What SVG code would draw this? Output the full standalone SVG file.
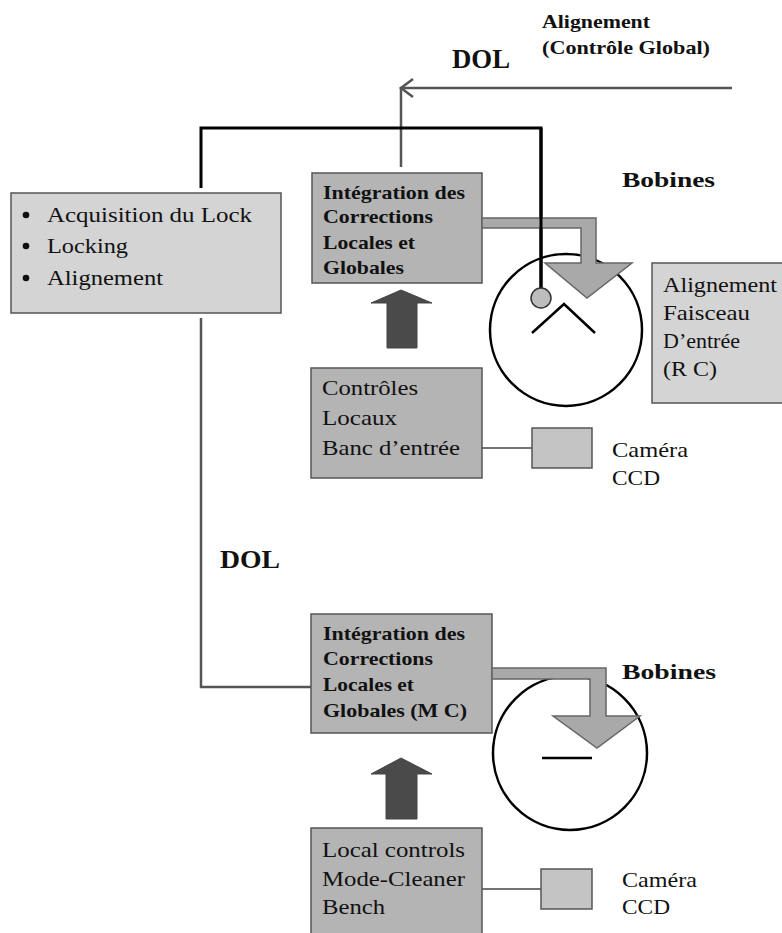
<svg xmlns="http://www.w3.org/2000/svg" width="782" height="933" viewBox="0 0 782 933">
<style>
.serif{font-family:"Liberation Serif","Times New Roman",serif;fill:#111}
.t{font-size:21px}
.b{font-size:19px;font-weight:bold}
.lb{font-size:22px;font-weight:bold}
.boxL{fill:#d4d4d4;stroke:#555;stroke-width:1.5}
.boxM{fill:#b4b4b4;stroke:#555;stroke-width:1.5}
.cam{fill:#c4c4c4;stroke:#555;stroke-width:1.5}
.garrow{fill:#a9a9a9;stroke:#666;stroke-width:1.5}
.darrow{fill:#4a4a4a;stroke:#444;stroke-width:1}
.thin{stroke:#444;stroke-width:1.3;fill:none}
.gline{stroke:#555;stroke-width:2.5;fill:none}
.bline{stroke:#000;stroke-width:3;fill:none}
.circ{fill:none;stroke:#000;stroke-width:2.5}
</style>
<rect width="782" height="933" fill="#fff"/>
<g id="connectors">
<path class="gline" d="M732 88 H401 V167"/>
<path class="gline" d="M413 79 L401 88 L413 97"/>
<path class="bline" d="M201 188 V128 H541 V288"/>
<path class="gline" d="M201 318 V687 H311"/>
<path class="thin" d="M482 448 H532"/>
<path class="thin" d="M482 889 H541"/>
</g>
<g id="node-left">
<rect class="boxL" x="11" y="193" width="270" height="120"/>
<g class="serif t">
<circle cx="26" cy="215" r="3.3" fill="#111"/>
<circle cx="26" cy="246" r="3.3" fill="#111"/>
<circle cx="26" cy="278" r="3.3" fill="#111"/>
<text x="47" y="222" textLength="205" lengthAdjust="spacingAndGlyphs">Acquisition du Lock</text>
<text x="47" y="253" textLength="81" lengthAdjust="spacingAndGlyphs">Locking</text>
<text x="47" y="285" textLength="116" lengthAdjust="spacingAndGlyphs">Alignement</text>
</g>
</g>
<g id="labels" class="serif">
<text class="b" x="542" y="28" textLength="108" lengthAdjust="spacingAndGlyphs">Alignement</text>
<text class="b" x="542" y="54" textLength="168" lengthAdjust="spacingAndGlyphs">(Contrôle Global)</text>
<text class="lb" x="452" y="68" style="font-size:27px" textLength="58" lengthAdjust="spacingAndGlyphs">DOL</text>
<text class="lb" x="622" y="187" textLength="93" lengthAdjust="spacingAndGlyphs">Bobines</text>
<text class="lb" x="220" y="568" style="font-size:26px" textLength="60" lengthAdjust="spacingAndGlyphs">DOL</text>
<text class="lb" x="622" y="679" textLength="94" lengthAdjust="spacingAndGlyphs">Bobines</text>
</g>
<g id="mirror-top">
<circle class="circ" cx="566" cy="330" r="76"/>
<path d="M532 333 L564 304 L595 333" fill="none" stroke="#000" stroke-width="2.5"/>
</g>
<g id="integration-top">
<rect class="boxM" x="312" y="173" width="170" height="110"/>
<g class="serif b">
<text x="323" y="199" textLength="142" lengthAdjust="spacingAndGlyphs">Intégration des</text>
<text x="323" y="223" textLength="110" lengthAdjust="spacingAndGlyphs">Corrections</text>
<text x="323" y="249" textLength="92" lengthAdjust="spacingAndGlyphs">Locales et</text>
<text x="323" y="274" textLength="81" lengthAdjust="spacingAndGlyphs">Globales</text>
</g>
<path class="garrow" d="M482 218 H596 V263 H632 L587 298 L545 263 H581 V228 H482 Z"/>
<path class="bline" d="M541 128 V288"/>
<circle cx="541" cy="298" r="10" fill="#bdbdbd" stroke="#333" stroke-width="1.5"/>
</g>
<g id="up-arrow-top">
<path class="darrow" d="M387 348 V303 H371 L401 290 L432 303 H417 V348 Z"/>
</g>
<g id="controles-top">
<rect class="boxM" x="311" y="368" width="171" height="110"/>
<g class="serif t">
<text x="322" y="395" textLength="96" lengthAdjust="spacingAndGlyphs">Contrôles</text>
<text x="322" y="425" textLength="75" lengthAdjust="spacingAndGlyphs">Locaux</text>
<text x="322" y="455" textLength="138" lengthAdjust="spacingAndGlyphs">Banc d’entrée</text>
</g>
</g>
<g id="camera-top">
<rect class="cam" x="532" y="428" width="60" height="40"/>
<g class="serif t">
<text x="612" y="457" textLength="76" lengthAdjust="spacingAndGlyphs">Caméra</text>
<text x="612" y="485" textLength="48" lengthAdjust="spacingAndGlyphs">CCD</text>
</g>
</g>
<g id="alignement-rc">
<rect class="boxL" x="652" y="263" width="140" height="140"/>
<g class="serif t">
<text x="663" y="292" textLength="114" lengthAdjust="spacingAndGlyphs">Alignement</text>
<text x="663" y="320" textLength="87" lengthAdjust="spacingAndGlyphs">Faisceau</text>
<text x="663" y="348" textLength="77" lengthAdjust="spacingAndGlyphs">D’entrée</text>
<text x="663" y="376" textLength="54" lengthAdjust="spacingAndGlyphs">(R C)</text>
</g>
</g>
<g id="mirror-bottom">
<circle class="circ" cx="570" cy="753" r="77"/>
<path d="M542 758 H592" stroke="#000" stroke-width="2.5"/>
</g>
<g id="integration-bottom">
<rect class="boxM" x="311" y="614" width="181" height="119"/>
<g class="serif b">
<text x="323" y="640" textLength="142" lengthAdjust="spacingAndGlyphs">Intégration des</text>
<text x="323" y="665" textLength="110" lengthAdjust="spacingAndGlyphs">Corrections</text>
<text x="323" y="691" textLength="91" lengthAdjust="spacingAndGlyphs">Locales et</text>
<text x="323" y="717" textLength="144" lengthAdjust="spacingAndGlyphs">Globales (M C)</text>
</g>
<path class="garrow" d="M492 668 H606 V716 H640 L597 748 L553 716 H590 V679 H492 Z"/>
</g>
<g id="up-arrow-bottom">
<path class="darrow" d="M386 819 V774 H371 L401 758 L432 774 H417 V819 Z"/>
</g>
<g id="local-controls">
<rect class="boxM" x="311" y="828" width="171" height="115"/>
<g class="serif t">
<text x="322" y="857" textLength="143" lengthAdjust="spacingAndGlyphs">Local controls</text>
<text x="322" y="886" textLength="143" lengthAdjust="spacingAndGlyphs">Mode-Cleaner</text>
<text x="322" y="914" textLength="63" lengthAdjust="spacingAndGlyphs">Bench</text>
</g>
</g>
<g id="camera-bottom">
<rect class="cam" x="541" y="869" width="51" height="40"/>
<g class="serif t">
<text x="622" y="887" textLength="75" lengthAdjust="spacingAndGlyphs">Caméra</text>
<text x="622" y="914" textLength="48" lengthAdjust="spacingAndGlyphs">CCD</text>
</g>
</g>
</svg>
